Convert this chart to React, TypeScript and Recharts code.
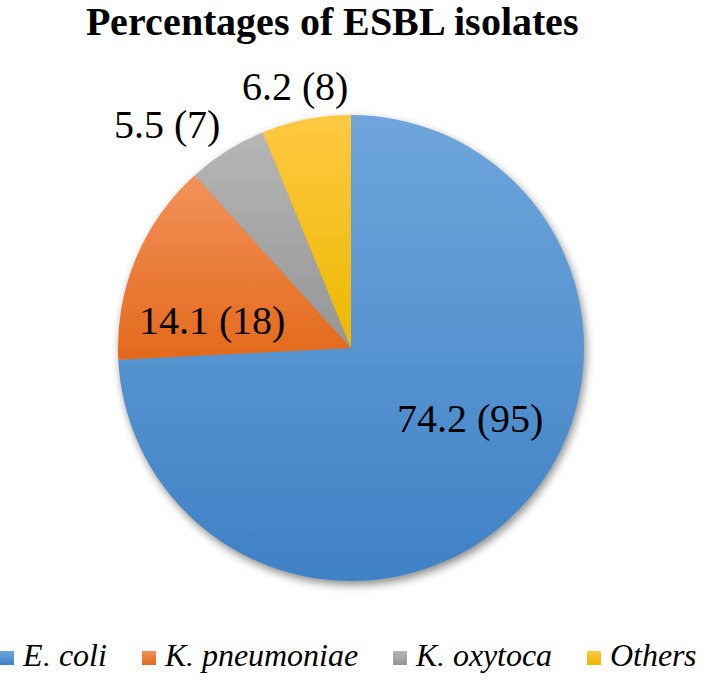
import React from 'react';
import { PieChart, Pie, Cell, Legend } from 'recharts';

const categories = ['E. coli', 'K. pneumoniae', 'K. oxytoca', 'Others'];
const percentages = [74.2, 14.1, 5.5, 6.2];
const counts = [95, 18, 7, 8];
const title = 'Percentages of ESBL isolates';

const gradients = [
  { id: 'gBlue', top: '#6ea6dc', bottom: '#3f81c5' },
  { id: 'gOrange', top: '#f3925a', bottom: '#e2691a' },
  { id: 'gGray', top: '#b6b6b6', bottom: '#959595' },
  { id: 'gYellow', top: '#ffc842', bottom: '#ecb900' },
];

// label placement: radius fraction of outerRadius, angle offset from mid angle (deg)
const labelPlacement = [
  { r: 0.594, da: 12.9 },
  { r: 0.608, da: 11.5 },
  { r: 1.244, da: 7.2 },
  { r: 1.148, da: 0.9 },
];

const data = categories.map((name, i) => ({
  name,
  value: percentages[i],
  count: counts[i],
}));

const FONT = "ChartSerif, 'Liberation Serif', 'Times New Roman', Tinos, 'DejaVu Serif', 'Noto Serif', serif";
const RAD = Math.PI / 180;

const fontFaces = `
@font-face { font-family: ChartSerif; font-style: normal; font-weight: 400; src: local('Liberation Serif'), local('LiberationSerif'), local('Liberation Serif Regular'), local('Times New Roman'), local('Tinos'), local('DejaVu Serif'); }
@font-face { font-family: ChartSerif; font-style: normal; font-weight: 700; src: local('Liberation Serif Bold'), local('LiberationSerif-Bold'), local('Times New Roman Bold'), local('Tinos Bold'), local('DejaVu Serif Bold'); }
@font-face { font-family: ChartSerif; font-style: italic; font-weight: 400; src: local('Liberation Serif Italic'), local('LiberationSerif-Italic'), local('Times New Roman Italic'), local('Tinos Italic'), local('DejaVu Serif Italic'); }
.recharts-pie { filter: drop-shadow(2px 4px 4px rgba(0,0,0,0.45)); }
`;

const renderLabel = (props: any) => {
  const { cx, cy, midAngle, outerRadius, index } = props;
  const p = labelPlacement[index];
  const ang = (midAngle + p.da) * RAD;
  const r = outerRadius * p.r;
  const x = cx + r * Math.cos(-ang);
  const y = cy + r * Math.sin(-ang);
  return (
    <text
      x={x}
      y={y}
      textAnchor="middle"
      dominantBaseline="central"
      style={{ fontFamily: FONT, fontSize: 40 }}
      fill="#000"
    >
      {`${percentages[index]} (${counts[index]})`}
    </text>
  );
};

const renderLegend = () => (
  <div
    style={{
      display: 'flex',
      flexDirection: 'row',
      alignItems: 'center',
      justifyContent: 'flex-start',
      fontFamily: FONT,
      fontStyle: 'italic',
      fontSize: 32,
      color: '#000',
      whiteSpace: 'nowrap',
    }}
  >
    {categories.map((c, i) => (
      <div
        key={c}
        style={{ display: 'flex', alignItems: 'center', marginRight: i < categories.length - 1 ? 35 : 0 }}
      >
        <div
          style={{
            width: 14,
            height: 14,
            background: `linear-gradient(${gradients[i].top}, ${gradients[i].bottom})`,
            marginRight: 9,
            marginTop: 4,
          }}
        />
        <span>{c}</span>
      </div>
    ))}
  </div>
);

export default function App() {
  return (
    <div style={{ position: 'absolute', left: 0, top: 0, width: 711, height: 682, background: '#fff', overflow: 'hidden', fontFamily: FONT }}>
      <style>{fontFaces}</style>
      <div
        style={{
          position: 'absolute',
          left: 0,
          top: -1,
          width: 664,
          textAlign: 'center',
          fontFamily: FONT,
          fontWeight: 'bold',
          fontSize: 40,
          lineHeight: '46px',
          color: '#000',
          zIndex: 2,
          whiteSpace: 'nowrap',
        }}
      >
        {title}
      </div>
      <PieChart width={711} height={682} margin={{ top: 0, right: 0, bottom: 0, left: 0 }} style={{ fontFamily: FONT }}>
        <defs>
          {gradients.map((g) => (
            <linearGradient key={g.id} id={g.id} x1="0" y1="0" x2="0" y2="1">
              <stop offset="0%" stopColor={g.top} />
              <stop offset="100%" stopColor={g.bottom} />
            </linearGradient>
          ))}
        </defs>
        <Pie
          data={data}
          dataKey="value"
          nameKey="name"
          cx={351}
          cy={348}
          outerRadius={233}
          startAngle={90}
          endAngle={-270}
          stroke="none"
          label={renderLabel}
          labelLine={false}
          isAnimationActive={false}
        >
          {data.map((d, i) => (
            <Cell key={d.name} fill={`url(#${gradients[i].id})`} />
          ))}
        </Pie>
        <Legend
          content={renderLegend}
          verticalAlign="bottom"
          wrapperStyle={{ position: 'absolute', left: 0, top: 637, width: 711, height: 45 }}
        />
      </PieChart>
    </div>
  );
}
